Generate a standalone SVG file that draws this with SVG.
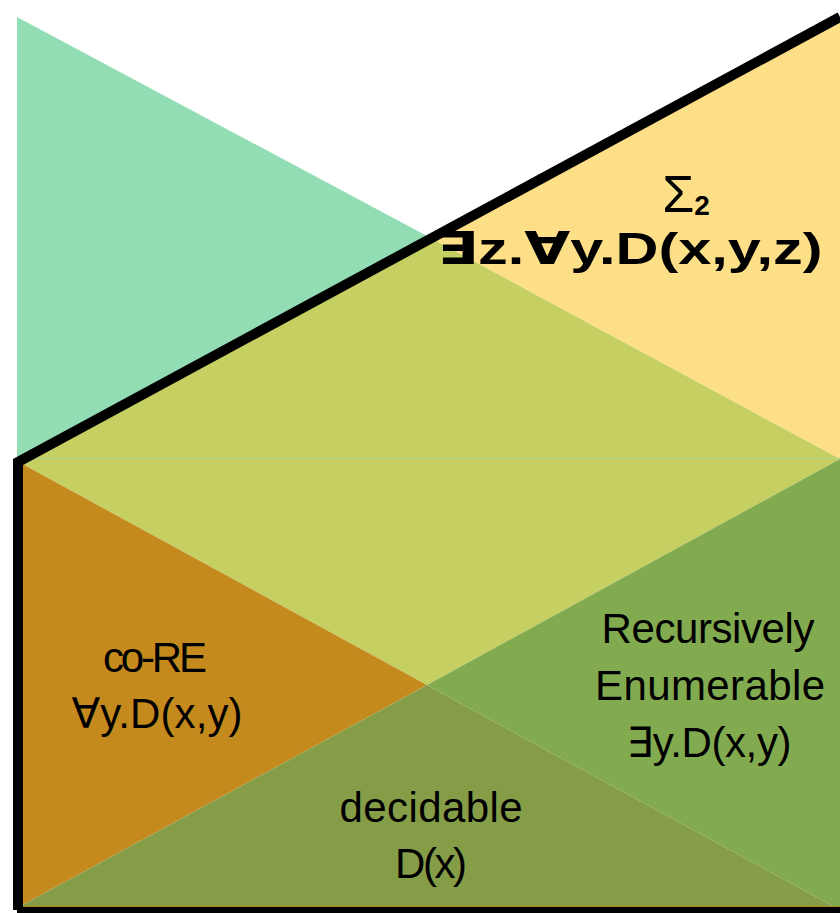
<svg xmlns="http://www.w3.org/2000/svg" width="840" height="913" viewBox="0 0 840 913">
<style>
.t{font-family:"Liberation Sans","DejaVu Sans",sans-serif;font-size:42px;fill:#000;text-anchor:middle}
.b{font-weight:bold}
.frame{fill:none;stroke:#000;stroke-width:10;stroke-linejoin:miter}
</style>
<rect width="840" height="913" fill="#fff"/>
<g id="regions">
<g id="pi2"><polygon points="17,17 427,236 17,461" fill="#92DDB4"/></g>
<g id="sigma2"><polygon points="427,236 840,17 840,459" fill="#FDDF88"/></g>
<g id="delta2"><polygon points="17,461 427,236 840,459 427,685" fill="#C5CF62"/></g>
<g id="core"><polygon points="17,461 427,685 17,908" fill="#C58A1E"/></g>
<g id="re"><polygon points="840,459 427,685 840,910" fill="#82AB50"/></g>
<g id="decidable"><polygon points="17,908 427,685 840,910 840,913 17,913" fill="#869D48"/></g>
</g>
<g id="connectors">
<line x1="22" y1="458.5" x2="840" y2="458.5" stroke="#A9D58A" stroke-width="1.2"/>
<line x1="22" y1="906.5" x2="840" y2="906.5" stroke="#B08420" stroke-width="1.2"/>
<polyline class="frame" points="840,17 18,462 18,910"/>
<line x1="17" y1="911" x2="840" y2="911" stroke="#000" stroke-width="8"/>
</g>
<g id="labels">
<text class="t" x="686" y="212" style="font-size:52px">Σ<tspan style="font-size:28px;font-weight:bold" dy="3">2</tspan></text>
<text class="t b" x="630" y="264" style="font-size:45px" textLength="385" lengthAdjust="spacingAndGlyphs">∃z.∀y.D(x,y,z)</text>
<text class="t" x="708" y="643" textLength="213">Recursively</text>
<text class="t" x="710" y="700" textLength="230">Enumerable</text>
<text class="t" x="709" y="757" textLength="165">∃y.D(x,y)</text>
<text class="t" x="155" y="672" textLength="104">co-RE</text>
<text class="t" x="157" y="728" textLength="171">∀y.D(x,y)</text>
<text class="t" x="431" y="822" textLength="183">decidable</text>
<text class="t" x="431" y="878" textLength="72">D(x)</text>
</g>
</svg>
